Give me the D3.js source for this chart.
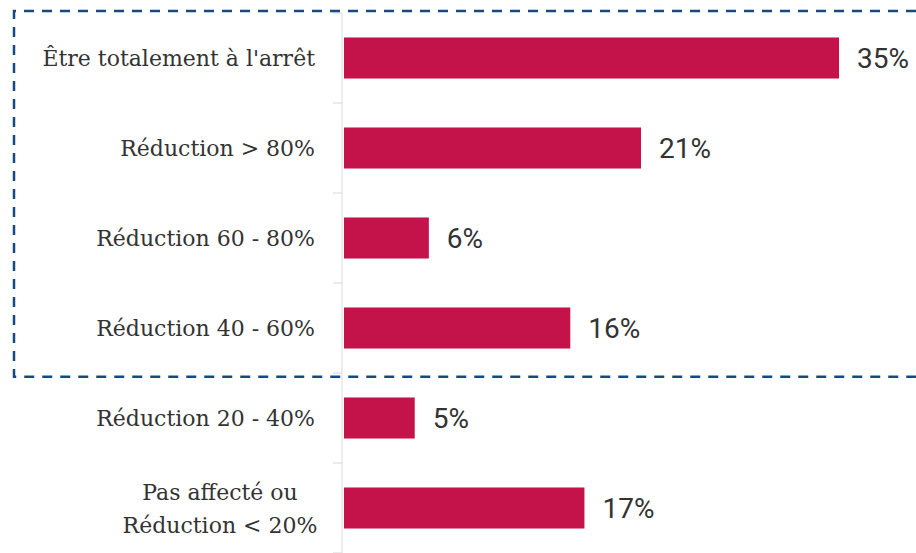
<!DOCTYPE html>
<html>
<head>
<meta charset="utf-8">
<script src="https://cdn.jsdelivr.net/npm/d3@7"></script>
<style>
  body { margin: 0; background: #fff; }
  svg { display: block; }
</style>
</head>
<body>
<script>
// data
var categories = [
  ["Être totalement à l'arrêt"],
  ["Réduction > 80%"],
  ["Réduction 60 - 80%"],
  ["Réduction 40 - 60%"],
  ["Réduction 20 - 40%"],
  ["Pas affecté ou", "Réduction < 20%"]
];
var values = [35, 21, 6, 16, 5, 17];
var value_labels = ["35%", "21%", "6%", "16%", "5%", "17%"];

var width = 916, height = 553;
var axis_x = 342;

var svg = d3.select("body").append("svg")
    .attr("width", width)
    .attr("height", height);

var keys = categories.map(function(d, i) { return i; });

var y = d3.scaleBand()
    .domain(keys)
    .range([13, 553])
    .paddingInner(0.544)
    .paddingOuter(0.272);

var x = d3.scaleLinear()
    .domain([0, 35])
    .range([axis_x + 2, 839]);

// light grey ticks between the categories
var ticks = keys.map(function(k) { return y(k) + y.bandwidth() / 2 - y.step() / 2; });
ticks.push(y(keys.length - 1) + y.bandwidth() / 2 + y.step() / 2);

svg.selectAll(".tick")
    .data(ticks)
  .enter().append("line")
    .attr("class", "tick")
    .attr("x1", axis_x - 9)
    .attr("x2", axis_x)
    .attr("y1", function(d) { return d; })
    .attr("y2", function(d) { return d; })
    .style("stroke", "#d6d6d6")
    .style("stroke-width", 1);

svg.append("line")
    .attr("x1", axis_x).attr("x2", axis_x)
    .attr("y1", ticks[0]).attr("y2", height)
    .style("stroke", "#dcdcdc")
    .style("stroke-width", 1);

svg.selectAll(".bar")
    .data(values)
  .enter().append("rect")
    .attr("class", "bar")
    .attr("x", x(0))
    .attr("y", function(d, i) { return y(i); })
    .attr("width", function(d) { return x(d) - x(0); })
    .attr("height", y.bandwidth())
    .style("fill", "#c4134b");

svg.selectAll(".value")
    .data(values)
  .enter().append("text")
    .attr("class", "value")
    .attr("x", function(d) { return x(d) + 18; })
    .attr("y", function(d, i) { return y(i) + y.bandwidth() / 2 + 10; })
    .text(function(d, i) { return value_labels[i]; })
    .style("font-family", "Roboto, sans-serif")
    .style("font-size", "28px")
    .style("fill", "#333");

var label = svg.selectAll(".label")
    .data(categories)
  .enter().append("text")
    .attr("class", "label")
    .style("font-family", "'DejaVu Serif', serif")
    .style("font-size", "22px")
    .style("fill", "#333");

label.each(function(lines, i) {
  var t = d3.select(this);
  var cy = y(i) + y.bandwidth() / 2;
  if (lines.length == 1) {
    t.attr("text-anchor", "end")
      .attr("x", 315)
      .attr("y", cy + 8)
      .text(lines[0]);
  } else {
    t.attr("text-anchor", "middle");
    lines.forEach(function(s, j) {
      t.append("tspan")
        .attr("x", 220)
        .attr("y", cy + 8 + (j - 0.5) * 33)
        .text(s);
    });
  }
});

// dashed frame round the first four rows
var frame_bottom = (ticks[4] + y(3) + y.bandwidth()) / 2 + 16;
svg.append("path")
    .attr("d", "M" + width + "," + 11 + "H14V" + frame_bottom + "H" + width)
    .style("fill", "none")
    .style("stroke", "#154a80")
    .style("stroke-width", 2.5)
    .style("stroke-dasharray", "10,8");
</script>
</body>
</html>
